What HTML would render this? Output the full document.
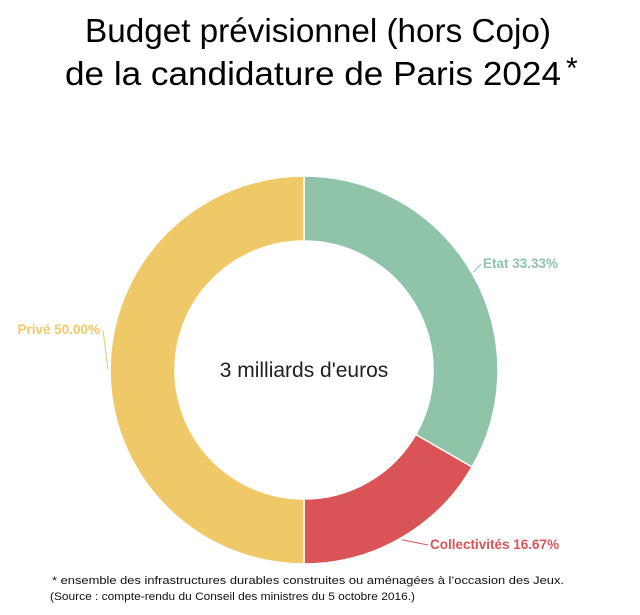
<!DOCTYPE html>
<html><head><meta charset="utf-8">
<style>
body{margin:0;width:640px;height:615px;background:#fff;overflow:hidden;font-family:"Liberation Sans",sans-serif;}
svg{position:absolute;left:0;top:0}
</style></head>
<body>
<svg width="640" height="615">
<text x="318" y="42" text-anchor="middle" font-size="33" fill="#000" textLength="466" lengthAdjust="spacingAndGlyphs">Budget prévisionnel (hors Cojo)</text>
<text x="313" y="85" text-anchor="middle" font-size="33" fill="#000" textLength="496" lengthAdjust="spacingAndGlyphs">de la candidature de Paris 2024</text>
<text x="566" y="78" font-size="30" fill="#000">*</text>
<g id="slices"></g>
<text x="304" y="377" text-anchor="middle" font-size="21" fill="#222">3 milliards d'euros</text>
<text x="52" y="584" font-size="11" fill="#111" textLength="512" lengthAdjust="spacingAndGlyphs">* ensemble des infrastructures durables construites ou aménagées à l’occasion des Jeux.</text>
<text x="50" y="600" font-size="11" fill="#111" textLength="365" lengthAdjust="spacingAndGlyphs">(Source : compte-rendu du Conseil des ministres du 5 octobre 2016.)</text>
</svg>
<script>
const categories=["Etat","Collectivités","Privé"];
const values=[33.33,16.67,50.00];
const colors=["#8fc4a8","#da5356","#efc968"];
const cx=304,cy=370,rO=194,rI=129;
const g=document.getElementById('slices');
const NS="http://www.w3.org/2000/svg";
const total=values.reduce((a,b)=>a+b,0);
function pt(a,r){return [cx+r*Math.sin(a),cy-r*Math.cos(a)];}
let start=0;
const labelPos=[{x:483,y:268,anchor:"start"},{x:430,y:549,anchor:"start"},{x:100,y:334,anchor:"end"}];
values.forEach((v,i)=>{
  const end=start+v/total*2*Math.PI;
  const large=(end-start)>Math.PI?1:0;
  const [x1,y1]=pt(start,rO),[x2,y2]=pt(end,rO),[x3,y3]=pt(end,rI),[x4,y4]=pt(start,rI);
  const p=document.createElementNS(NS,'path');
  p.setAttribute('d',`M${x1},${y1}A${rO},${rO} 0 ${large} 1 ${x2},${y2}L${x3},${y3}A${rI},${rI} 0 ${large} 0 ${x4},${y4}Z`);
  p.setAttribute('fill',colors[i]);p.setAttribute('stroke','#fff');p.setAttribute('stroke-width','1.5');
  
  
  g.appendChild(p);
  const mid=(start+end)/2;
  const [ex,ey]=pt(mid,rO+2);
  const L=labelPos[i];
  const ln=document.createElementNS(NS,'polyline');
  const lx=L.anchor==="start"?L.x-2:L.x+3;
  ln.setAttribute('points',`${ex},${ey} ${lx},${L.y-4}`);
  ln.setAttribute('fill','none');ln.setAttribute('stroke',colors[i]);ln.setAttribute('stroke-width','1');
  
  
  g.appendChild(ln);
  const t=document.createElementNS(NS,'text');
  t.setAttribute('x',L.x);t.setAttribute('y',L.y);t.setAttribute('text-anchor',L.anchor);
  t.setAttribute('font-size','13.5');t.setAttribute('font-weight','bold');t.setAttribute('fill',colors[i]);
  t.textContent=categories[i]+" "+v.toFixed(2)+"%";
  
  
  g.appendChild(t);
  start=end;
});
</script>
</body></html>
